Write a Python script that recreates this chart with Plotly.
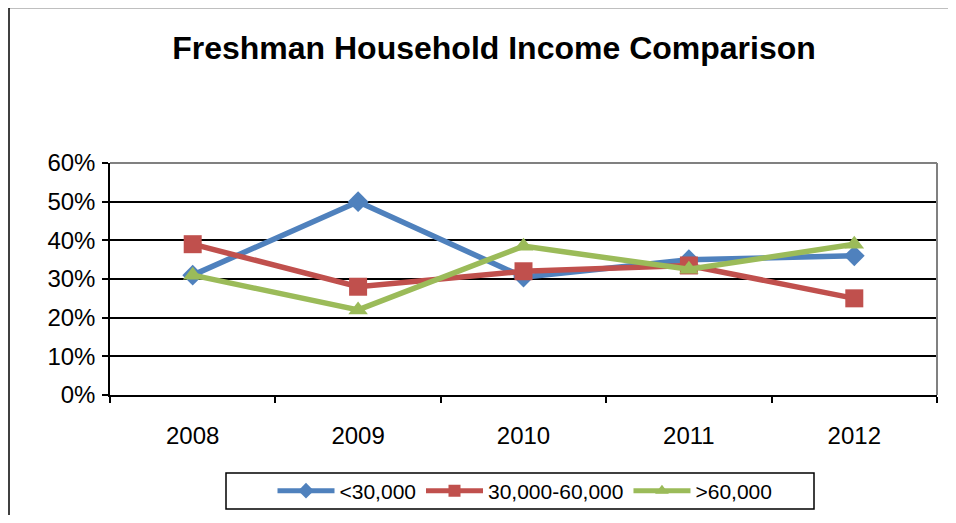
import plotly.graph_objects as go

years = ["2008", "2009", "2010", "2011", "2012"]
low = [0.31, 0.50, 0.305, 0.35, 0.36]
mid = [0.39, 0.28, 0.32, 0.335, 0.25]
high = [0.31, 0.22, 0.385, 0.325, 0.39]
series_names = ["<30,000", "30,000-60,000", ">60,000"]
colors = ["#4F81BD", "#C0504D", "#9BBB59"]
symbols = ["diamond", "square", "triangle-up"]
sizes = [16, 18, 17]
y_ticks = [0, 0.1, 0.2, 0.3, 0.4, 0.5, 0.6]
y_labels = ["0%", "10%", "20%", "30%", "40%", "50%", "60%"]

FONT = "Liberation Sans, Arial, sans-serif"

fig = go.Figure()
for name, vals, col, sym, sz in zip(series_names, [low, mid, high], colors, symbols, sizes):
    fig.add_trace(go.Scatter(
        x=years, y=vals, name=name, mode="lines+markers",
        line=dict(color=col, width=5.5),
        marker=dict(symbol=sym, size=sz, color=col),
    ))

# page has an 8px body margin; figure coords = page coords - 8
OFF = 8
W, H = 940, 507
L = 110 - OFF
T = 163 - OFF
R = W - (937 - OFF)
B = H - (395 - OFF)
pw = W - L - R
ph = H - T - B

def px_x(x):
    return (x - OFF - L) / pw

def px_y(y):
    return (H - B - (y - OFF)) / ph

fig.update_layout(
    width=W, height=H,
    margin=dict(l=L, r=R, t=T, b=B, autoexpand=False),
    paper_bgcolor="white", plot_bgcolor="white",
    font=dict(family=FONT, color="black", size=24),
    title=dict(text="<b>Freshman Household Income Comparison</b>",
               x=(494 - OFF) / W, xanchor="center", y=1 - (48 - OFF) / H, yanchor="middle",
               font=dict(family=FONT, size=32, color="black")),
    showlegend=True,
    legend=dict(orientation="h", x=px_x(525), xanchor="center",
                y=px_y(491), yanchor="middle",
                borderwidth=0, bgcolor="rgba(0,0,0,0)",
                font=dict(family=FONT, size=21, color="black"),
                itemwidth=57, itemsizing="constant", tracegroupgap=0),
    xaxis=dict(type="category", tickson="boundaries", ticks="outside",
               ticklen=6, tickwidth=1.5, tickcolor="black",
               showline=True, linecolor="black", linewidth=1.5,
               showgrid=False, ticklabelstandoff=18, automargin=False,
               tickfont=dict(family=FONT, size=24, color="black"),
               range=[-0.5, 4.5]),
    yaxis=dict(range=[0, 0.6], tickvals=y_ticks, ticktext=y_labels,
               ticks="outside", ticklen=6, tickwidth=1.5, tickcolor="black",
               showline=True, linecolor="black", linewidth=1.5,
               showgrid=True, gridcolor="black", gridwidth=1.5,
               zeroline=False, ticklabelstandoff=2, automargin=False,
               tickfont=dict(family=FONT, size=24, color="black")),
)

# gray plot-area border (top & right)
fig.add_shape(type="line", xref="paper", yref="paper", x0=0, x1=1, y0=1, y1=1,
              line=dict(color="#808080", width=2), layer="above")
fig.add_shape(type="line", xref="paper", yref="paper", x0=1, x1=1, y0=0, y1=1,
              line=dict(color="#808080", width=2), layer="above")
# outer chart border (left & top visible)
fig.add_shape(type="line", xref="paper", yref="paper",
              x0=px_x(9), x1=px_x(9), y0=px_y(7), y1=px_y(560),
              line=dict(color="black", width=1.5), layer="above")
fig.add_shape(type="line", xref="paper", yref="paper",
              x0=px_x(9), x1=px_x(990), y0=px_y(7.5), y1=px_y(7.5),
              line=dict(color="black", width=1.5), layer="above")
# legend frame
fig.add_shape(type="rect", xref="paper", yref="paper",
              x0=px_x(226), x1=px_x(814), y0=px_y(473), y1=px_y(509),
              line=dict(color="black", width=1.5), layer="above")

fig.write_html("out.html", config={"displayModeBar": False})
